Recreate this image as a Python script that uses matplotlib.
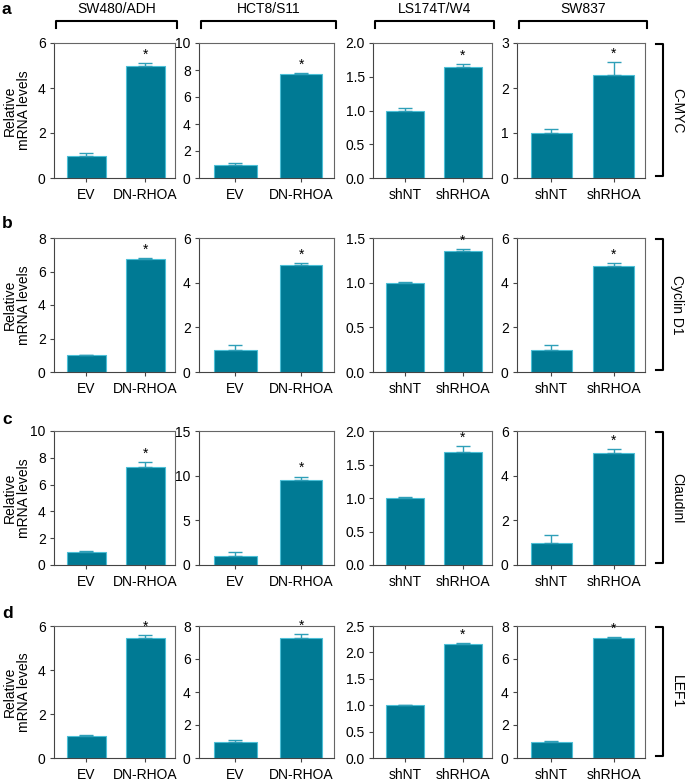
import matplotlib
matplotlib.use("Agg")
import matplotlib.pyplot as plt
from matplotlib.lines import Line2D

plt.rcParams['font.family'] = ['Liberation Sans', 'DejaVu Sans']

cell_lines = ["SW480/ADH", "HCT8/S11", "LS174T/W4", "SW837"]
genes = ["C-MYC", "Cyclin D1", "Claudinl", "LEF1"]
panel_letters = ["a", "b", "c", "d"]
cat_labels = [["EV", "DN-RHOA"], ["EV", "DN-RHOA"], ["shNT", "shRHOA"], ["shNT", "shRHOA"]]

# values[row][col] = (control, treatment)
values = [
    [(1.0, 4.97), (1.0, 7.7), (1.0, 1.65), (1.0, 2.3)],
    [(1.0, 6.75), (1.0, 4.8), (1.0, 1.36), (1.0, 4.75)],
    [(1.0, 7.3), (1.0, 9.55), (1.0, 1.69), (1.0, 5.0)],
    [(1.0, 5.45), (1.0, 7.3), (1.0, 2.15), (1.0, 7.3)],
]
errors = [
    [(0.1, 0.12), (0.12, 0.05), (0.04, 0.04), (0.1, 0.28)],
    [(0.03, 0.05), (0.22, 0.06), (0.01, 0.02), (0.2, 0.12)],
    [(0.05, 0.35), (0.5, 0.35), (0.02, 0.08), (0.35, 0.18)],
    [(0.04, 0.15), (0.1, 0.2), (0.01, 0.02), (0.05, 0.05)],
]
ymax = [
    [6, 10, 2.0, 3],
    [8, 6, 1.5, 6],
    [10, 15, 2.0, 6],
    [6, 8, 2.5, 8],
]
yticks = [
    [[0, 2, 4, 6], [0, 2, 4, 6, 8, 10], [0, 0.5, 1.0, 1.5, 2.0], [0, 1, 2, 3]],
    [[0, 2, 4, 6, 8], [0, 2, 4, 6], [0, 0.5, 1.0, 1.5], [0, 2, 4, 6]],
    [[0, 2, 4, 6, 8, 10], [0, 5, 10, 15], [0, 0.5, 1.0, 1.5, 2.0], [0, 2, 4, 6]],
    [[0, 2, 4, 6], [0, 2, 4, 6, 8], [0, 0.5, 1.0, 1.5, 2.0, 2.5], [0, 2, 4, 6, 8]],
]

W, H = 685, 782
fig = plt.figure(figsize=(W / 100, H / 100), dpi=100)

col_px = [(54, 175), (199, 334), (373, 492), (517, 645)]
row_px = [(43, 178), (238, 372), (431, 565), (626, 758)]
letter_y = [9, 224, 420, 613]

bar_color = "#007a94"
edge_color = "#4cbfd6"
err_color = "#2e9fb8"
spine_color = "#444444"
fs = 10


def fx(px):
    return px / W


def fy(py):
    return 1 - py / H


for r in range(4):
    top, bot = row_px[r]
    for c in range(4):
        left, right = col_px[c]
        ax = fig.add_axes([fx(left), fy(bot), fx(right - left), (bot - top) / H])
        v = values[r][c]
        e = errors[r][c]
        x = [0, 1]
        ax.bar(x, v, width=0.65, color=bar_color, edgecolor=edge_color, linewidth=0.8, zorder=2)
        ax.errorbar(x, v, yerr=[[0, 0], list(e)], fmt="none", ecolor=err_color,
                    elinewidth=1.0, capsize=5, capthick=1.0, zorder=3)
        ax.set_xlim(-0.55, 1.5)
        ax.set_ylim(0, ymax[r][c])
        ax.set_yticks(yticks[r][c])
        if c == 2:
            ax.set_yticklabels([f"{t:.1f}" for t in yticks[r][c]])
        else:
            ax.set_yticklabels([f"{t:g}" for t in yticks[r][c]])
        ax.set_xticks(x)
        ax.set_xticklabels(cat_labels[c])
        ax.tick_params(axis="both", labelsize=fs, length=3, width=0.8, color=spine_color,
                       direction="out", pad=3)
        ax.tick_params(axis="x", pad=4)
        for s in ax.spines.values():
            s.set_color("#666666")
            s.set_linewidth(0.8)
        ax.spines["left"].set_color(spine_color)
        ax.spines["bottom"].set_color(spine_color)
        # asterisk
        ax.text(1, v[1] + e[1] + ymax[r][c] * 0.01, "*", ha="center", va="bottom", fontsize=10)
        if c == 0:
            ax.set_ylabel("Relative\nmRNA levels", fontsize=fs, linespacing=1.0)
            ax.yaxis.set_label_coords(-(left - 31) / (right - left), 0.5)

    # panel letter
    fig.text(fx(2), fy(letter_y[r]), panel_letters[r], fontsize=12.5, fontweight="bold",
             ha="left", va="center")
    # right bracket
    bx = 663
    fig.add_artist(Line2D([fx(bx - 7), fx(bx), fx(bx), fx(bx - 7)],
                          [fy(top + 1), fy(top + 1), fy(bot - 2), fy(bot - 2)],
                          color="black", linewidth=1.5))
    fig.text(fx(677), fy((top + bot) / 2), genes[r], rotation=270, fontsize=fs,
             ha="center", va="center")

# top brackets and titles
for c in range(4):
    left, right = col_px[c]
    fig.add_artist(Line2D([fx(left + 2), fx(left + 2), fx(right + 2), fx(right + 2)],
                          [fy(28), fy(21), fy(21), fy(28)], color="black", linewidth=1.5))
    fig.text(fx((left + right) / 2 + 2), fy(9), cell_lines[c], fontsize=fs,
             ha="center", va="center")

fig.savefig("out.png", dpi=100)
